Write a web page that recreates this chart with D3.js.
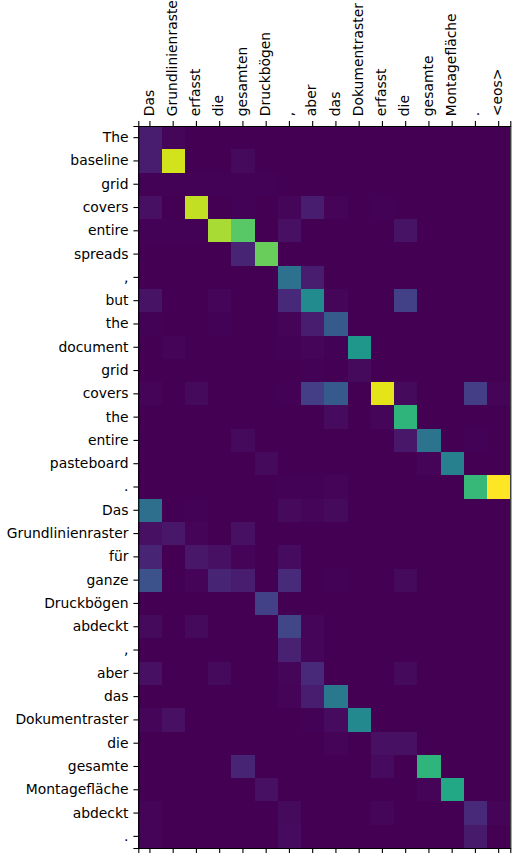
<!DOCTYPE html>
<html>
<head>
<meta charset="utf-8">
<script src="https://cdnjs.cloudflare.com/ajax/libs/d3/7.8.5/d3.min.js"></script>
<style>
  html, body { margin: 0; padding: 0; background: #fff; }
  svg { display: block; }
  .tick text { font-family: "DejaVu Sans", sans-serif; font-size: 13.9px; fill: #000; }
  .tick line, .domain { stroke: #000; stroke-width: 1.1px; }
</style>
</head>
<body>
<div class="canvas"></div>
<script>
const sourceWords = ['Das', 'Grundlinienraster', 'erfasst', 'die', 'gesamten', 'Druckbögen', ',', 'aber', 'das', 'Dokumentraster', 'erfasst', 'die', 'gesamte', 'Montagefläche', '.', '<eos>'];
const targetWords = ['The', 'baseline', 'grid', 'covers', 'entire', 'spreads', ',', 'but', 'the', 'document', 'grid', 'covers', 'the', 'entire', 'pasteboard', '.', 'Das', 'Grundlinienraster', 'für', 'ganze', 'Druckbögen', 'abdeckt', ',', 'aber', 'das', 'Dokumentraster', 'die', 'gesamte', 'Montagefläche', 'abdeckt', '.'];

// attention weights, one row per target word
const attention = [
  [.08, .015, 0, 0, 0, 0, 0, 0, 0, 0, 0, 0, 0, 0, 0, 0],
  [.08, .93, 0, 0, .025, 0, 0, 0, 0, 0, 0, 0, 0, 0, 0, 0],
  [.004, .004, .004, .004, .004, .004, 0, 0, 0, 0, 0, 0, 0, 0, 0, 0],
  [.04, 0, .91, 0, .004, 0, .015, .08, .008, 0, .004, 0, 0, 0, 0, 0],
  [.004, .004, .004, .87, .74, 0, .04, 0, 0, 0, 0, .05, 0, 0, 0, 0],
  [0, 0, 0, 0, .10, .77, 0, 0, 0, 0, 0, 0, 0, 0, 0, 0],
  [0, 0, 0, 0, 0, 0, .37, .075, 0, 0, 0, 0, 0, 0, 0, 0],
  [.05, 0, 0, .015, 0, 0, .11, .48, .015, 0, 0, .19, 0, 0, 0, 0],
  [.004, 0, 0, .004, 0, 0, .008, .075, .28, 0, 0, 0, 0, 0, 0, 0],
  [0, .008, 0, 0, 0, 0, .004, .015, .004, .53, 0, 0, 0, 0, 0, 0],
  [0, 0, 0, 0, 0, 0, 0, .004, 0, .025, 0, 0, 0, 0, 0, 0],
  [.008, 0, .025, 0, 0, 0, .004, .18, .28, 0, .96, .025, 0, 0, .18, .01],
  [0, 0, 0, 0, 0, 0, 0, 0, .03, 0, .015, .65, 0, 0, 0, 0],
  [0, 0, 0, 0, .025, 0, 0, 0, 0, 0, 0, .06, .38, 0, .004, 0],
  [0, 0, 0, 0, 0, .025, 0, 0, 0, 0, 0, 0, .008, .43, 0, 0],
  [0, 0, 0, 0, 0, 0, .004, .004, .008, 0, 0, 0, 0, 0, .67, 1],
  [.36, 0, .004, 0, 0, 0, .025, .012, .025, 0, 0, 0, 0, 0, 0, 0],
  [.04, .06, .008, 0, .04, 0, 0, 0, 0, 0, 0, 0, 0, 0, 0, 0],
  [.10, 0, .06, .04, .008, 0, .03, 0, 0, 0, 0, 0, 0, 0, 0, 0],
  [.25, 0, .008, .10, .075, 0, .12, 0, .004, 0, 0, .025, 0, 0, 0, 0],
  [0, 0, 0, 0, 0, .19, 0, 0, 0, 0, 0, 0, 0, 0, 0, 0],
  [.025, 0, .025, 0, 0, 0, .21, .015, 0, 0, 0, 0, 0, 0, 0, 0],
  [0, 0, 0, 0, 0, 0, .09, .015, 0, 0, 0, 0, 0, 0, 0, 0],
  [.04, 0, 0, .025, 0, 0, .015, .11, 0, 0, 0, .025, 0, 0, 0, 0],
  [0, 0, 0, 0, 0, 0, .008, .075, .40, 0, 0, 0, 0, 0, 0, 0],
  [.015, .04, 0, 0, 0, 0, 0, .004, .03, .47, 0, 0, 0, 0, 0, 0],
  [0, 0, 0, 0, 0, 0, 0, 0, .008, 0, .04, .04, 0, 0, 0, 0],
  [0, 0, 0, 0, .10, 0, 0, 0, 0, 0, .03, 0, .65, 0, 0, 0],
  [0, 0, 0, 0, 0, .04, 0, 0, 0, 0, 0, 0, .008, .60, 0, 0],
  [.008, 0, 0, 0, 0, 0, .025, 0, 0, 0, .015, 0, 0, 0, .11, .008],
  [.008, 0, 0, 0, 0, 0, .03, 0, 0, 0, 0, 0, 0, 0, .07, 0]
];

const margin = { top: 126, right: 9.7, bottom: 11, left: 138.3 };
const width = 520;
const height = 859;
const graphWidth = width - margin.right - margin.left;
const graphHeight = height - margin.top - margin.bottom;

const svg = d3.select('.canvas')
  .append('svg')
  .attr('width', width)
  .attr('height', height);

const graph = svg.append('g')
  .attr('transform', `translate(${margin.left}, ${margin.top})`);

// words repeat, so the scales run over positions and the axes look the word up
const x = d3.scaleBand().domain(d3.range(sourceWords.length)).range([0, graphWidth]);
const y = d3.scaleBand().domain(d3.range(targetWords.length)).range([0, graphHeight]);
const color = d3.scaleSequential(d3.interpolateViridis).domain([0, 1]);

const cells = attention.flatMap((row, i) => row.map((value, j) => ({ i, j, value })));

graph.append('g').attr('class', 'cells')
  .selectAll('rect')
  .data(cells)
  .enter().append('rect')
  .attr('x', d => x(d.j))
  .attr('y', d => y(d.i))
  .attr('width', x.bandwidth())
  .attr('height', y.bandwidth())
  .attr('fill', d => color(d.value))
  .attr('shape-rendering', 'crispEdges');

const xAxis = d3.axisTop(x).tickSize(4.9).tickPadding(4.9).tickFormat(d => sourceWords[d]);
const xAxisBottom = d3.axisBottom(x).tickSize(4.9).tickFormat('');
const yAxis = d3.axisLeft(y).tickSize(4.9).tickPadding(4.9).tickFormat(d => targetWords[d]);
const yAxisRight = d3.axisRight(y).tickSize(0).tickFormat('');

const xAxisGroup = graph.append('g').attr('class', 'x-axis').call(xAxis);
graph.append('g').attr('class', 'x-axis-bottom').attr('transform', `translate(0, ${graphHeight})`).call(xAxisBottom);
graph.append('g').attr('class', 'y-axis').call(yAxis);
graph.append('g').attr('class', 'y-axis-right').attr('transform', `translate(${graphWidth}, 0)`).call(yAxisRight);

svg.selectAll('.domain').attr('fill', 'none');

xAxisGroup.selectAll('text')
  .attr('transform', 'rotate(-90)')
  .attr('text-anchor', 'start')
  .attr('x', 9.8)
  .attr('y', 0)
  .attr('dy', '0.27em');
</script>
</body>
</html>
